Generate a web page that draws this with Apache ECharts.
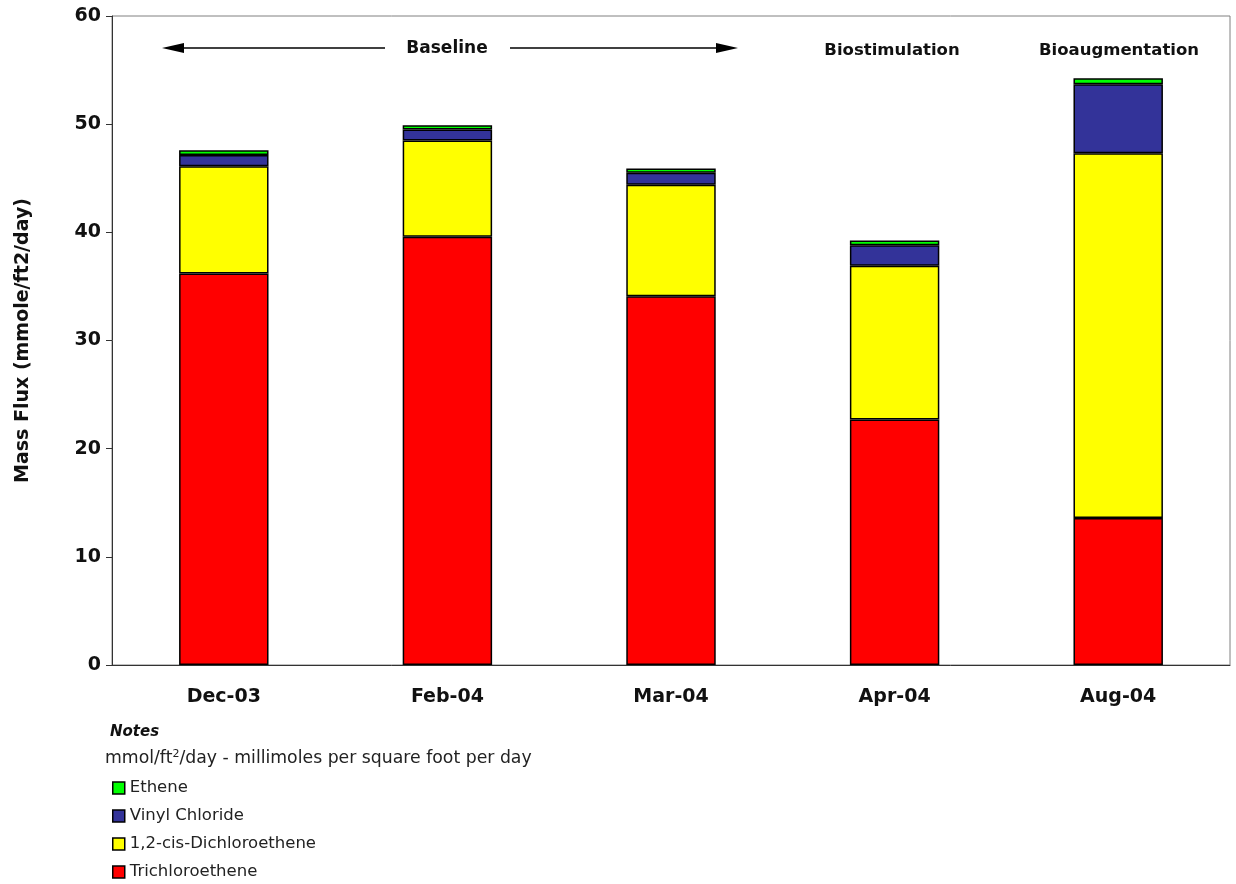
<!DOCTYPE html>
<html><head><meta charset="utf-8">
<script src="https://cdn.jsdelivr.net/npm/echarts@6/dist/echarts.min.js"></script>
<style>html,body{margin:0;padding:0;background:#fff}#c{width:1236px;height:884px}</style>
</head><body><div id="c"></div>
<script>
const categories = ['Dec-03','Feb-04','Mar-04','Apr-04','Aug-04'];
const tce = [36.2, 39.6, 34.1, 22.7, 13.6];
const dce = [9.9, 8.9, 10.3, 14.2, 33.7];
const vc = [1.05, 1.0, 1.1, 1.9, 6.4];
const ethene = [0.45, 0.4, 0.4, 0.45, 0.55];
const yTicks = [0, 10, 20, 30, 40, 50, 60];

const chart = echarts.init(document.getElementById('c'));
const FONT = 'DejaVu Sans';
function bar(name, data, color){
  return {name, type:'bar', stack:'s', data, barWidth:'40%',
    itemStyle:{color, borderColor:'#000', borderWidth:1.5}};
}
function arrowHead(x, y, dir){
  const L = 22, H = 5;
  return {type:'polygon', shape:{points:[[x,y],[x-dir*L,y-H],[x-dir*L,y+H]]}, style:{fill:'#000'}};
}
chart.setOption({
  animation:false,
  grid:{left:112, right:6, top:16, bottom:219, show:true, borderColor:'#808080', borderWidth:1},
  xAxis:{type:'category', data:categories,
    axisLine:{lineStyle:{color:'#333', width:1}}, axisTick:{show:false},
    axisLabel:{fontFamily:FONT, fontWeight:'bold', fontSize:19, color:'#111', margin:23}},
  yAxis:{type:'value', min:0, max:60, interval:10,
    name:'Mass Flux (mmole/ft2/day)', nameLocation:'middle', nameGap:79, nameRotate:90,
    nameTextStyle:{fontFamily:FONT, fontWeight:'bold', fontSize:19, color:'#111'},
    axisLine:{show:true, lineStyle:{color:'#333'}}, axisTick:{show:true, length:6, lineStyle:{color:'#333'}},
    splitLine:{show:false},
    axisLabel:{fontFamily:FONT, fontWeight:'bold', fontSize:19, color:'#111', margin:11,
      formatter:v=> yTicks.includes(v) ? String(v) : ''}},
  legend:{orient:'vertical', left:112, top:779, itemGap:10, itemWidth:12, itemHeight:12, padding:0,
    data:['Ethene','Vinyl Chloride','1,2-cis-Dichloroethene','Trichloroethene'],
    textStyle:{fontFamily:FONT, fontSize:16.5, lineHeight:18, color:'#222'},
    itemStyle:{borderColor:'#000', borderWidth:1.5}, selectedMode:false, icon:'rect'},
  series:[
    bar('Trichloroethene', tce, '#FF0000'),
    bar('1,2-cis-Dichloroethene', dce, '#FFFF00'),
    bar('Vinyl Chloride', vc, '#333399'),
    bar('Ethene', ethene, '#00FF00')
  ],
  graphic:[
    {type:'text', x:447, y:49, style:{text:'Baseline', fontFamily:FONT, fontWeight:'bold', fontSize:17, fill:'#111', align:'center', verticalAlign:'middle'}},
    {type:'text', x:892, y:51, style:{text:'Biostimulation', fontFamily:FONT, fontWeight:'bold', fontSize:16.5, fill:'#111', align:'center', verticalAlign:'middle'}},
    {type:'text', x:1119, y:51, style:{text:'Bioaugmentation', fontFamily:FONT, fontWeight:'bold', fontSize:16.5, fill:'#111', align:'center', verticalAlign:'middle'}},
    {type:'line', shape:{x1:180, y1:48, x2:385, y2:48}, style:{stroke:'#000', lineWidth:1.5}},
    arrowHead(162, 48, -1),
    {type:'line', shape:{x1:510, y1:48, x2:718, y2:48}, style:{stroke:'#000', lineWidth:1.5}},
    arrowHead(738, 48, 1),
    {type:'text', x:110, y:732, style:{text:'Notes', fontFamily:FONT, fontWeight:'bold', fontStyle:'italic', fontSize:15, fill:'#111', verticalAlign:'middle'}},
    {type:'text', x:105, y:759, style:{text:'mmol/ft{sup|2}/day - millimoles per square foot per day', fontFamily:FONT, fontSize:17.3, fill:'#222', verticalAlign:'middle',
      rich:{sup:{fontFamily:FONT, fontSize:11, fill:'#222', verticalAlign:'top', padding:[0,0,9,0]}}}}
  ]
});
</script></body></html>
